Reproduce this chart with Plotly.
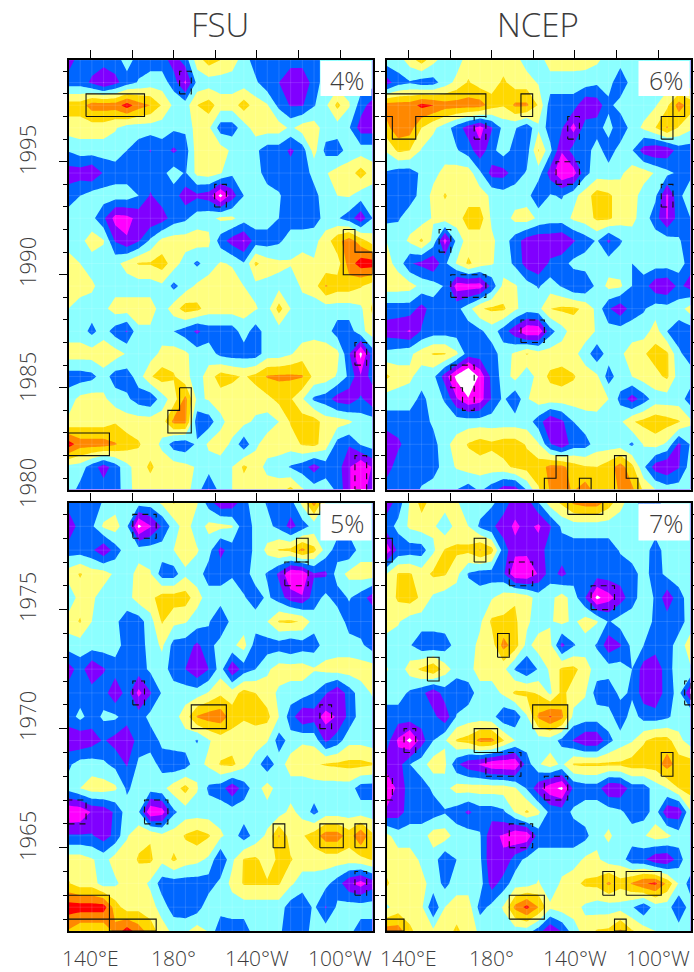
import plotly.graph_objects as go

W, H = 694, 972
LON0, DLON = 129.375, 5.625
lons = [LON0 + DLON * k for k in range(27)]

# class values: -4 white, -3 magenta, -2 purple, -1 blue, 0 cyan, 1 yellow, 2 gold, 3 orange, 4 red
FSU_TOP = [
[-2,-1,-1,-1,-1,0,-1,-1,-1,-2,-1,1,2,1.5,1,0,-1,-1,-1,-1,-1,-1,0,0,0,0,0],
[-1,-1,-1.7,-2.55,-1.8,-1,-.4,0,0,-1,-2.7,-.2,0,0,0,0,-.3,-1.2,-1.5,-2.4,-2.4,-1,0,0,0,0,0],
[2,2,3,3,3,4,3,2.5,1.4,.3,0,1.5,2,1,1,2,1,.6,-.8,-1.6,-1.6,-.6,.3,1.8,.6,-1,-2],
[1,1,1,1,.6,0,0,0,0,-.3,-.3,1,.7,-1,-1,0,1,1,1,.3,1,1,0,0,-.4,-2,-2],
[-.4,0,0,0,0,-.5,-1,-1.55,-1,-1.7,-1,1,1,1,.3,0,-.3,-1,-1,-1.7,-1,.9,-.8,-1,0,0,0],
[-2,-2,-2.4,-1.4,-1,-1,-1,-1,-.8,0,-.6,.8,1,.6,-.3,0,0,-1,-1,-1,-1,-.2,.4,1,1,2,1],
[-1,-.5,0,0,0,0,-.5,-1.6,-1,-1,-2.1,-1.7,-2,-3.8,-2,-.5,0,0,-.4,-1,-1,-.8,0,.5,.6,0,0],
[0,0,-.2,-1.3,-2.9,-2.8,-2.2,-2.3,-2,-1,-.7,0,.2,.7,.7,0,0,0,-.5,-1,-1,-1,-.1,-.4,-1,-2.2,-.5],
[0,.2,1,.6,-1.6,-2.4,-1.6,-.3,.8,1,1,1,.7,-1,-2,-2.6,-1,-1,-.7,0,0,.2,1,2.2,3,2,1],
[1,.5,0,0,.2,.9,1.6,1.6,2,1,0,-.7,0,.6,.4,-.4,1.7,1,.7,.6,1,.6,.7,1,3,4,4],
[1,1,.7,0,0,0,0,0,.3,-.8,0,.7,1,1,1,.5,.2,.2,.2,-.2,.7,1,2.6,2,2,1.6,1],
[.5,0,0,.2,1,1,1,1,0,1,2,1.8,1,1,1,.9,.6,.1,1.9,.5,0,0,0,0,0,.3,1.7],
[0,0,-.8,0,-1,-1.6,.3,.3,0,-.5,-1,-1.7,-1,-1,-1,0,-1,0,0,0,0,.2,0,-1,-1,.2,1],
[1,1,1,1.3,1,.4,0,0,.8,1,.7,0,0,-.8,-1,-1,-1,0,0,.4,1,1,1,.8,-1.4,-3.8,-1],
[-1,-1,-.8,0,-1,-1,0,1.4,2,1.6,.8,0,1,2,1.7,1.4,1.8,2.6,2.7,2.7,2.6,1.2,1,.4,-.7,-2.4,-1],
[0,.8,1,.7,0,-.3,-1,-1.3,0,1,2.8,.3,.6,1,1,1,1,1.2,1.8,1.6,.6,-.7,-1,-2,-2.2,-1.3,-2.3],
[.7,1,1,1,1.4,1,1,1,1,2.8,2.8,-1.2,-1,.2,1,.8,.3,0,.5,1.6,2,2,1,1,.7,0,0],
[4,3,3,3,2.6,2,1.6,1,.3,-1,-1.2,-.3,.7,1,.3,-1.2,.3,1,1,1,1.6,1.8,1,-.9,-1.4,-.4,0],
[.2,0,-1,-2,-1,.2,1,1.7,1,1,.8,.4,0,0,.5,1.7,1,.2,0,-.6,-1,-2,-1,-1,-2.4,-3.4,-2.4],
[0,-.8,-1,-1,-1,.1,1,1,1,1,.8,.1,-1.6,0,.5,1,1,1,1,1.8,.6,0,0,-.7,-2.4,-3.4,-1.5],
]
NCEP_TOP = [
[0,0,1,2,.8,0,0,1,1,1,1,.9,0,0,1,1,1,.9,.7,0,0,0,0,0,0,0,0],
[-2,-.9,-.6,-1,-.9,0,.8,1.6,1,1,1.7,1,1,.4,0,0,0,0,-.3,0,-1.4,0,0,0,0,0,0],
[3,3,3,3.8,3.5,3,3,3,3,2,1.6,2.7,2.7,1.4,-1,-1,-1,-2.4,-2.1,-.8,0,0,0,.4,1.3,3,2],
[2.2,3.2,3,1.5,.7,0,-1,-2,-2.9,-1.6,-.2,-.4,-1.2,.3,-1,-1.4,-2.9,-1,-1,0,-1.4,0,.7,1.5,2.6,1.4,.7],
[.6,1.7,1.5,.4,0,0,-.4,-1,-2.2,-.8,0,-.9,-1,1.6,-.2,-2.4,-1,-1,0,-1.1,0,-.4,-2,-2.4,-2.2,-1,-1],
[-.6,-1,-1,-.3,.2,.8,1,1,-.3,-1.9,-1.9,-1,-.4,0,-2,-3.4,-3,-.8,0,0,.3,1,1,.4,-.2,-.7,-.7],
[-1,-1,-.9,-.2,.8,1.6,1,1,1,.3,0,0,0,-1.5,-.4,-.6,.2,1,2,1.7,1,1,0,-.3,-2.7,-.7,0],
[-.8,-.6,0,0,.6,1,1,2,2,.3,0,.8,1,.3,0,0,.7,1,1.7,1.7,1,.8,0,-1,-2.6,-1,-.5],
[.5,0,.7,1.7,.2,-2.9,-.2,1,1,.7,0,-1,-2,-2.3,-2.2,-2.4,-1.6,-1,-.4,-1.7,-.6,0,0,0,0,-.4,-1],
[.8,.2,-1.4,-1.8,-2.4,-.7,.6,1.7,1,.6,0,-.7,-2,-2.4,-1.3,-.9,-.2,0,0,0,0,-.5,0,0,0,0,-1],
[1,1,.9,.2,0,-.6,-3,-3,-3,-1.2,.8,.6,0,-.6,0,-.6,-1.4,-1.4,-.2,.8,.7,-.5,-1,-2.2,-2.4,-1.2,-2],
[-1,-1,-1,-1.9,-1,-1,-.8,.1,1.4,1.7,1.7,.7,0,.2,1.5,1.7,1.7,1.3,.2,-1.4,-2.2,-1,-.6,0,-.1,0,1],
[-2,-2.2,-2.6,-1.4,-1,-1,-1,-1,-.7,0,-1,-2.2,-3.4,-3.3,-.9,.1,1,1,.4,0,0,0,0,1,-.5,-1,-1],
[-.2,0,.3,1,1.6,1.6,.7,-1,-1,-1,0,.7,1.6,1,1,1,.8,0,-1.2,0,.3,1,1.4,1.9,1.7,-.3,-1],
[1.7,1,.7,0,-.2,-2,-3.8,-5,-3.2,-1.2,-.1,.9,-.3,1,1.7,1.9,1.6,1,.7,-1,.1,.5,1,1.2,1.7,0,0],
[0,0,0,-.8,0,-.6,-2.4,-3.4,-3,-1.4,-.3,-1.4,.4,1,1,1,1,1,1,.5,-.8,-2,-1,0,0,0,-1],
[-1,-1,-1,-1,-.3,0,0,0,0,0,0,0,0,-1,-2.4,-1.7,-.5,0,.1,.2,.3,1.4,1.8,2.2,1.9,1.6,.7],
[-2.3,-1.7,-1,-1,-.9,.2,.9,1.6,2,1.7,2,2,1.4,.6,-1.4,-2.3,-1,-.9,0,0,0,-.7,.6,.9,.3,-1.7,-.4],
[-2,-1,-1,-1,-1,0,.6,1,1,1,1.2,1.7,1.9,2,2.8,2.8,2,1.6,1.5,2,3,1.8,-.3,-2,-2.4,-1.6,0],
[-1,-1,-1,-.4,0,0,-.5,-1,-.3,-1,-2,-2,-.4,1.4,2.6,2.8,2.4,3,2,1.8,2.7,2.7,1.3,.5,0,0,0],
]
FSU_BOT = [
[-1,-1,-1,-.4,0,0,0,0,.7,1.6,1,.6,-1,-2.3,-2.2,-.8,0,-.6,-1,-.9,.8,3,.5,0,0,0,0],
[-2.3,-1,-.7,.7,1,-.3,-3.8,-2.6,-1.4,0,1,-.1,.8,.8,.6,-1.2,-.2,-.2,-.8,-1.9,-1,-.1,0,0,0,0,0],
[-1,-1,-1.3,-2.4,-1,0,0,0,0,.5,1,.6,-.1,-1.8,-1,-1,-.3,.8,1.6,1.8,2.8,1.8,.1,-1,-1.3,0,0],
[1,1.6,1,1,.3,0,.9,.6,-1,-1,.3,0,-1,-1,-.6,-1,0,-.6,-1.7,-3.4,-3.3,-1.6,-1.7,0,.8,1,1],
[-.3,1,.7,0,0,.1,1,1.2,2,2,2,.9,0,0,0,-.4,-1,-.3,-1,-2,-2.4,-1,-.2,-1,-.4,-1,-2],
[1,1.6,.5,0,-.3,-1,-1,.1,1.6,.8,.6,0,-.4,-1.5,-.1,0,0,.5,1.6,1.7,1.4,0,.5,.3,-1,-1,-.5],
[0,0,0,0,0,-1,-1,-.1,.7,-.9,-1,-1.7,-.9,0,.3,.9,-1,-1,-1,-1.4,-1,-1,0,0,0,-.3,-1],
[-2,-1,-2.4,-1.6,-1,-1,-1,-.3,0,-1,-1.5,-2.4,-1.5,0,-2.4,-1,-.5,.3,1,1,1,.6,.8,1,1,1,1],
[-1,-1,-1,-1,-2.4,-1,-2.8,-1.6,-.4,0,0,0,.6,1.3,1,1.9,1.5,1,.3,0,0,-.5,-1.4,-2.4,-1,0,.6],
[-1,-.2,-1,-.3,-.3,-1,-1,-.2,0,.1,1,2.6,3,3.1,2,1.6,1.8,1.8,.5,-1,-2.4,-2,-2.9,-2.4,-1.2,0,0],
[-2.2,-2.4,-2,-1.4,-1.9,-2.4,-1,-1,-.3,0,0,-.6,.4,1,1,1,1,.6,-1,-.1,.4,.2,-1.7,-1,.2,.2,0],
[-.7,0,0,-.3,-.8,-1.6,-.3,0,-.9,-1.2,-1,.2,.7,1.6,1.8,.8,0,-1.2,0,1,1,1.4,1.6,1.7,1.8,1.8,1.6],
[-.1,.5,1,1,.7,-.7,0,0,.2,1,1.9,.6,-.7,-1,-2.3,-1,0,1,0,0,0,0,0,0,0,-1,-1],
[-3.4,-3.3,-2.4,-2.2,-1.3,0,-.4,-3.4,-3,-.7,0,0,0,0,0,0,0,0,0,.8,.1,-.8,0,0,0,0,0],
[-1.4,-1.4,-1.4,-2,-1.2,.4,1.2,1.4,.8,1,1.6,2,1.6,.7,0,-1,-.1,.7,2.6,1,1.4,2,3,3,2,3.4,1.7],
[1,1,.6,.1,1,1,1.6,1.7,.8,1.7,1,.8,.3,-1.5,.3,1.6,1.7,1,1.7,1.6,1,1,1,1,1,1.2,1.6],
[1.6,1,1,0,.3,1,1,.3,-1,-1,-1,-1,-1,-.2,.8,1.6,1.6,1.6,1.6,.7,0,0,-.2,-1,-2.3,-2.9,-2],
[4,4,4,4,2,1,1.2,1,0,-1,-1.2,-1,.2,0,0,0,0,0,0,-1,-1.3,-.3,-1.6,-.3,0,0,0],
[2.4,1.7,1.7,1.7,2.8,4,3,2,1,.2,.3,1,.4,-1.3,-1,-1,0,0,-.3,-1.1,-1,-.1,0,0,-.2,-1,-1],
]
NCEP_BOT = [
[-2,-1.1,.6,1.9,1,1,.6,0,0,-.3,-1,-2,-2,-.5,1,1.7,2.7,3,3,2,.8,0,-1,-1,0,0,0],
[-1,-.2,.7,1,.7,-.2,.9,.5,-.7,-1.3,-2,-2.7,-2.2,-2.7,-1.6,-.3,0,0,0,0,0,0,0,0,0,0,0],
[-3.2,-1.2,-1,-1,.3,1.6,1.7,1.8,2.6,1.9,-1,-2.2,-2.2,-2,-1,-1,-1,-1,-1,-1,-.4,0,0,-1,0,.3,0],
[.5,1.6,1.6,1,1.7,1.6,.8,-.6,-1,-1,-1.3,-3.3,-3.4,-2.4,-1,-1.8,-1,-1,-1,-1,-1,-.9,-.1,-1,-.2,0,0],
[.7,1.7,2,1.3,.3,0,0,0,0,.4,1,1.4,1,0,.2,1,0,-1.5,-3.8,-2.9,-2,-.9,0,-.6,-2.2,-.9,0],
[1,.6,0,0,0,0,0,0,.3,1.7,1.7,1.7,.7,0,.4,.8,.3,1,.6,-.6,0,0,0,-.7,-1,-1,0],
[0,0,-.4,-1.2,-1.2,-1,-.1,0,.8,1,2.9,2,.2,1,.8,-1.8,-.6,0,-.6,-2.2,-1.6,-.2,-.5,-1,-1,0,1],
[.6,-.2,1,1.7,2.4,1,0,.1,1,1,.8,-.6,-1.4,-.4,.7,1.7,1.8,1,0,0,0,-.5,-2,-2.3,-.9,0,.4],
[0,0,-.7,-1.2,-2.2,-1,-1.3,-1,0,0,.7,1.7,1.7,1.4,.3,1.8,1,.6,-1,-1.2,-.2,-.7,-2,-2.4,-.9,-.2,-2.4],
[-1,-1,-.9,-1,-1.2,-2.2,-.4,0,0,-.1,-1.3,-1.3,.4,2.7,3.6,2.8,.2,0,0,0,-1.2,0,-.9,-1,-.7,0,.5],
[-1,-2.7,-3.8,-2,-.5,.4,1.6,1.9,2.8,2.8,1.6,.5,0,0,0,-.8,-1.6,-2.4,-2.4,-.8,0,.4,1.4,1.9,1.9,.8,0],
[-2,-2,-.5,.1,1,.7,-1.3,-2.2,-2.6,-3.3,-3.4,-3.4,-1,.4,1,.3,1.6,1.7,1.7,1.7,1.7,2,2,2,3,2,2],
[-3.4,-2.2,-1,-1,-.3,.2,.9,1,1,1,1,.6,-.6,-2.2,-3.2,-3.7,-1.3,-1,-1,-2.4,-2.3,-1,-1,0,.5,1.5,2],
[-2.3,-2,-1,-1,-1,-.6,-1,-1.7,-1,-1,-.7,.6,1.7,.7,-.8,-1,-.3,0,0,0,-.3,-1,-1,0,-2.3,-2.2,.4],
[.8,0,0,0,1,1,0,0,-.4,-2.3,-2.6,-3.4,-3.3,-1,-1,-1,-1,-.8,.2,.7,0,0,.4,1,.8,0,0],
[1,1,1,.3,0,-1.3,-.5,0,-.3,-2.4,-2.4,-1,-.2,0,0,0,0,.7,.7,0,0,-1.1,-1.3,-2.3,-2.4,-1,.4],
[1.7,.8,1,.8,.1,-.8,0,0,0,-2,-1,0,0,.6,-.2,.7,1.2,1.7,1.8,2.7,1.9,2.6,3.4,3.7,2.3,.4,-1],
[.3,1,1,.7,-1.4,.5,1,1,-.9,-.2,.6,2.8,3.8,2.5,.7,1,.9,.3,0,0,.1,-.4,-1.3,0,0,-1.4,0],
[3,3,1.7,1,.7,1,1.7,1,.3,0,0,0,0,-1,-2.4,-1.4,.1,.9,1.6,1.7,2.7,1.6,1,.5,0,0,0],
]
YEARS_TOP = [1999.5 - i for i in range(20)]
YEARS_BOT = [1979.5 - i for i in range(19)]

BAND_COLORS = ["#ffffff", "#ff00ff", "#8000ff", "#0066ff", "#8cffff",
               "#ffff80", "#ffd800", "#ff8800", "#ff0000"]

# significance outlines: column index (half-cell edges) and year edges
R = lambda a, b, c, d: [(a, c), (b, c), (b, d), (a, d), (a, c)]
FSU_TOP_SOLID = [R(1.5,6.5,1997,1998), R(0,3.5,1982,1983),
  [(23.5,1992),(24.5,1992),(24.5,1991),(26,1991),(26,1990),(23.5,1990),(23.5,1992)],
  [(9.5,1985),(10.5,1985),(10.5,1983),(8.5,1983),(8.5,1984),(9.5,1984),(9.5,1985)]]
FSU_TOP_DASH = [R(9.5,10.5,1998,1999), R(12.5,13.5,1993,1994), R(24.5,25.5,1986,1987), R(24.5,25.5,1980.5,1982)]
NCEP_TOP_SOLID = [
  [(0,1998),(8.5,1998),(8.5,1997),(2.5,1997),(2.5,1996),(.5,1996),(.5,1997),(0,1997)],
  R(11.5,12.5,1997,1998), R(24.5,25.5,1997,1998), R(23.5,24.5,1996,1997),
  [(13.5,1980.5),(13.5,1981),(14.5,1981),(14.5,1982),(15.5,1982),(15.5,1980.5)],
  [(16.5,1980.5),(16.5,1981),(17.5,1981),(17.5,1980.5)],
  [(19.5,1980.5),(19.5,1982),(20.5,1982),(20.5,1981),(21.5,1981),(21.5,1980.5)]]
NCEP_TOP_DASH = [R(7.5,8.5,1996,1997), R(15.5,16.5,1996,1997), R(14.5,16.5,1994,1995), R(23.5,24.5,1993,1994),
  R(4.5,5.5,1991,1992), R(5.5,8.5,1989,1990), R(11.5,13.5,1987,1988),
  [(5.5,1986),(7.5,1986),(7.5,1984),(6.5,1984),(6.5,1985),(5.5,1985),(5.5,1986)]]
FSU_BOT_SOLID = [R(20.5,21.5,1979,1979.5), R(19.5,20.5,1977,1978), R(10.5,13.5,1970,1971),
  R(17.5,18.5,1965,1966), R(21.5,23.5,1965,1966), R(24.5,25.5,1965,1966),
  R(0,3.5,1962,1963), R(3.5,7.5,1961.5,1962)]
FSU_BOT_DASH = [R(5.5,7.5,1978,1979), R(18.5,20.5,1976,1977), R(5.5,6.5,1971,1972), R(21.5,22.5,1970,1971),
  R(0,1.5,1966,1967), R(6.5,8.5,1966,1967), R(24.5,25.5,1963,1964)]
NCEP_BOT_SOLID = [R(15.5,18.5,1979,1979.5), R(0,.5,1977,1978), R(7.5,8.5,1977,1978), R(9.5,10.5,1973,1974),
  R(3.5,4.5,1972,1973), R(12.5,15.5,1970,1971), R(7.5,9.5,1969,1970), R(23.5,24.5,1968,1969),
  R(18.5,19.5,1963,1964), R(20.5,23.5,1963,1964), R(10.5,13.5,1962,1963), R(0,1.5,1961.5,1962), R(19.5,20.5,1961.5,1962)]
NCEP_BOT_DASH = [R(10.5,12.5,1976,1977), R(17.5,19.5,1975,1976), R(25.5,26,1971,1972), R(1.5,2.5,1969,1970),
  R(8.5,11.5,1968,1969), R(0,.5,1967,1968), R(13.5,15.5,1967,1968), R(10.5,12.5,1965,1966)]

XTICKS = [140, 160, 180, 200, 220, 240, 260]
XLABELS = {140: "140°E", 180: "180°", 220: "140°W", 260: "100°W"}
YLABELS_TOP = {"1995": 150, "1990": 262, "1985": 377, "1980": 483}
YLABELS_BOT = {"1975": 597, "1970": 716, "1965": 836}
PANELS = [
  ("x", "y", (68.5, 372.5), (60, 489.5), FSU_TOP, YEARS_TOP, FSU_TOP_SOLID, FSU_TOP_DASH, "4%"),
  ("x2", "y2", (386.5, 690.5), (60, 489.5), NCEP_TOP, YEARS_TOP, NCEP_TOP_SOLID, NCEP_TOP_DASH, "6%"),
  ("x3", "y3", (68.5, 372.5), (502.5, 931), FSU_BOT, YEARS_BOT, FSU_BOT_SOLID, FSU_BOT_DASH, "5%"),
  ("x4", "y4", (386.5, 690.5), (502.5, 931), NCEP_BOT, YEARS_BOT, NCEP_BOT_SOLID, NCEP_BOT_DASH, "7%"),
]
FONT = "Open Sans"
TXT = "#3c3c3c"

fig = go.Figure()
n = len(BAND_COLORS)
cscale = []
for i, c in enumerate(BAND_COLORS):
    cscale += [[i / n, c], [(i + 1) / n, c]]

def outline(polys, k2lon=lambda k: LON0 + DLON * k):
    xs, ys = [], []
    for p in polys:
        xs += [k2lon(v[0]) for v in p] + [None]
        ys += [v[1] for v in p] + [None]
    return xs, ys

layout = dict(width=W, height=H, margin=dict(l=0, r=0, t=0, b=0), autosize=False,
              paper_bgcolor="white", plot_bgcolor="white", showlegend=False,
              annotations=[], shapes=[])
for (xa, ya, xpx, ypx, z, yrs, solid, dash, pct) in PANELS:
    for row in z:
        assert len(row) == 27
    assert len(z) == len(yrs)
    fig.add_trace(go.Contour(x=lons, y=yrs, z=z, xaxis=xa, yaxis=ya, zmin=-4.5, zmax=4.5,
        colorscale=cscale, showscale=False, autocontour=False,
        contours=dict(coloring="fill", start=-3.5, end=3.5, size=1, showlines=False),
        line=dict(width=0, smoothing=0), hoverinfo="skip"))
    # faint seams of the original contour grid
    gx, gy = [], []
    for lo in lons:
        gx += [lo, lo, None]
        gy += [yrs[-1], yrs[0], None]
    for yr in yrs:
        gx += [lons[0], lons[-1], None]
        gy += [yr, yr, None]
    fig.add_trace(go.Scatter(x=gx, y=gy, xaxis=xa, yaxis=ya, mode="lines",
        line=dict(color="rgba(255,255,255,0.13)", width=1), hoverinfo="skip"))
    sx, sy = outline(solid)
    fig.add_trace(go.Scatter(x=sx, y=sy, xaxis=xa, yaxis=ya, mode="lines",
        line=dict(color="#101010", width=1.1), hoverinfo="skip"))
    dx, dy = outline(dash)
    fig.add_trace(go.Scatter(x=dx, y=dy, xaxis=xa, yaxis=ya, mode="lines",
        line=dict(color="#101010", width=1.1, dash="6px,5px"), hoverinfo="skip"))
    n_ax = xa[1:]
    layout["xaxis" + n_ax] = dict(domain=[xpx[0] / W, xpx[1] / W], range=[lons[0], lons[-1]], anchor=ya,
        side="top", showgrid=False, zeroline=False, showline=True, linecolor="black", linewidth=2,
        mirror=True, ticks="outside", ticklen=8, tickwidth=1.3, tickcolor="black", automargin=False,
        tickmode="array", tickvals=XTICKS, showticklabels=False)
    layout["yaxis" + n_ax] = dict(domain=[1 - ypx[1] / H, 1 - ypx[0] / H], range=[yrs[-1], yrs[0]], anchor=xa,
        showgrid=False, zeroline=False, showline=True, linecolor="black", linewidth=2, automargin=False,
        mirror="ticks", ticks="outside", ticklen=8, tickwidth=1.3, tickcolor="black",
        tickmode="array", tickvals=[1965, 1970, 1975, 1985, 1990, 1995], showticklabels=False,
        minor=dict(dtick=1, tick0=1960, ticks="outside", ticklen=4, tickwidth=1.1, tickcolor="black", showgrid=False))
    # white tag with the percentage
    bh = 36 if ypx[0] < 100 else 38
    layout["shapes"].append(dict(type="rect", xref="paper", yref="paper", layer="above",
        x0=(xpx[1] - 52) / W, x1=(xpx[1] - 1) / W, y0=1 - (ypx[0] + bh) / H, y1=1 - (ypx[0] + 1) / H,
        fillcolor="white", line=dict(width=0)))
    layout["annotations"].append(dict(text=pct, xref="paper", yref="paper", x=(xpx[1] - 25) / W,
        y=1 - (ypx[0] + 20) / H, showarrow=False, xanchor="center", yanchor="middle",
        font=dict(family=FONT, size=25, color=TXT, weight=300)))

for title, xc in (("FSU", 220), ("NCEP", 538)):
    layout["annotations"].append(dict(text=title, xref="paper", yref="paper", x=xc / W, y=1 - 25 / H,
        showarrow=False, xanchor="center", yanchor="middle",
        font=dict(family=FONT, size=33, color=TXT, weight=300)))
for lab, yc in {**YLABELS_TOP, **YLABELS_BOT}.items():
    layout["annotations"].append(dict(text=lab, xref="paper", yref="paper", x=27 / W, y=1 - yc / H,
        showarrow=False, textangle=-90, xanchor="center", yanchor="middle",
        font=dict(family=FONT, size=22, color=TXT, weight=300)))
for xa in ("x3", "x4"):
    for v, lab in XLABELS.items():
        layout["annotations"].append(dict(text=lab, xref=xa, yref="paper", x=v, y=1 - 958 / H,
            showarrow=False, xanchor="center", yanchor="middle",
            font=dict(family=FONT, size=21, color=TXT, weight=300)))

fig.update_layout(**layout)
fig.write_html("out.html", default_width="694px", default_height="972px",
    config=dict(displayModeBar=False, responsive=False),
    post_script="document.body.style.margin='0';document.documentElement.style.overflow='hidden';")
